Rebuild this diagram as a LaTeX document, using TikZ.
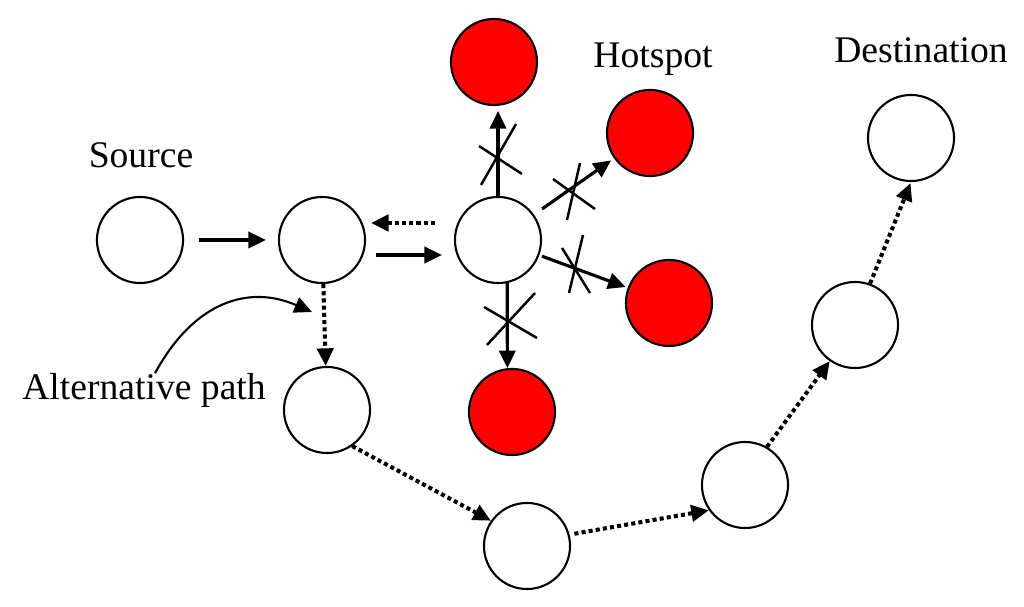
\documentclass[tikz,border=0pt]{standalone}
\usepackage{fontspec}
\setmainfont{Liberation Serif}
\usetikzlibrary{arrows.meta}
\begin{document}
\begin{tikzpicture}[x=0.01cm, y=-0.01cm,
  hop/.style={circle, draw, line width=0.6pt, minimum size=0.86cm, inner sep=0pt},
  hot/.style={hop, fill=red},
  lbl/.style={inner sep=0pt, anchor=base, font=\fontsize{10.7}{12.8}\selectfont},
  go/.style={line width=0.9pt, -{Triangle[length=5pt, width=4.6pt]}},
  alt/.style={go, line width=1.15pt, dash pattern=on 1.15pt off 0.9pt},
  cross/.style={line width=0.7pt}]
\useasboundingbox (0,0) rectangle (1024,607);
\node[hop] (src) at (140,240){};
\node[hop] (relay) at (322,240){};
\node[hop] (hub) at (498,240){};
\node[hot] (htop) at (494,62){};
\node[hot] (hhot) at (650,133){};
\node[hot] (hright) at (669,303){};
\node[hot] (hbot) at (512,412){};
\node[hop] (detour) at (327,410){};
\node[hop] (low) at (527,546){};
\node[hop] (mid) at (745,485){};
\node[hop] (up) at (855,325){};
\node[hop] (dst) at (911,138){};
\node[lbl] (srclbl) at (141,168){Source};
\node[lbl] (hotlbl) at (653,68){Hotspot};
\node[lbl] (dstlbl) at (921,63){Destination};
\node[lbl] (altlbl) at (144,400){Alternative path};
\coordinate (altend) at (312,312);
% main route
\draw[go, shorten <=4.2pt, shorten >=3.4pt] (src) -- (relay);
\draw[go, shorten <=2.8pt, shorten >=3.4pt] ([yshift=-0.15cm]relay.east) -- ([yshift=-0.15cm]hub.west);
\draw[alt, shorten <=5.4pt, shorten >=1.4pt] ([yshift=0.17cm]hub.west) -- ([yshift=0.17cm]relay.east);
% blocked links
\draw[go, shorten >=1.4pt] (hub.north) -- (hub.north |- htop.south);
\draw[go, shorten <=2.8pt, shorten >=1pt] (hub) -- (hhot);
\draw[go, shorten <=0.8pt, shorten >=0.6pt] (hub) -- (hright);
\draw[go] (hub.282) -- (hbot.96);
\coordinate (xtop) at (498,156);
\coordinate (xhot) at (574,193);
\coordinate (xright) at (576,266);
\coordinate (xbot) at (510,320);
\draw[cross] (xtop) ++(-17,29) -- ++(35,-61);
\draw[cross] (xtop) ++(-19,-10) -- ++(43,28);
\draw[cross] (xhot) ++(-21,-14) -- ++(42,30);
\draw[cross] (xhot) ++(6,-30) -- ++(-13,57);
\draw[cross] (xright) ++(-14,-18) -- ++(28,45);
\draw[cross] (xright) ++(7,-31) -- ++(-14,58);
\draw[cross] (xbot) ++(-26,-13) -- ++(53,31);
\draw[cross] (xbot) ++(25,-27) -- ++(-48,52);
% alternative route
\draw[alt] (relay) -- (detour);
\draw[alt] (detour.305) -- (low.145);
\draw[alt, shorten <=1.4pt] (low.15) -- (mid.215);
\draw[alt] (mid.60) -- (up.235);
\draw[alt, shorten >=0.3pt] (up.70) -- (dst.270);
\draw[line width=0.6pt, -{Triangle[length=5pt, width=4.6pt]}] ([xshift=0.11cm]altlbl.north) .. controls (195,300) and (250,285) .. (altend);
\end{tikzpicture}
\end{document}
